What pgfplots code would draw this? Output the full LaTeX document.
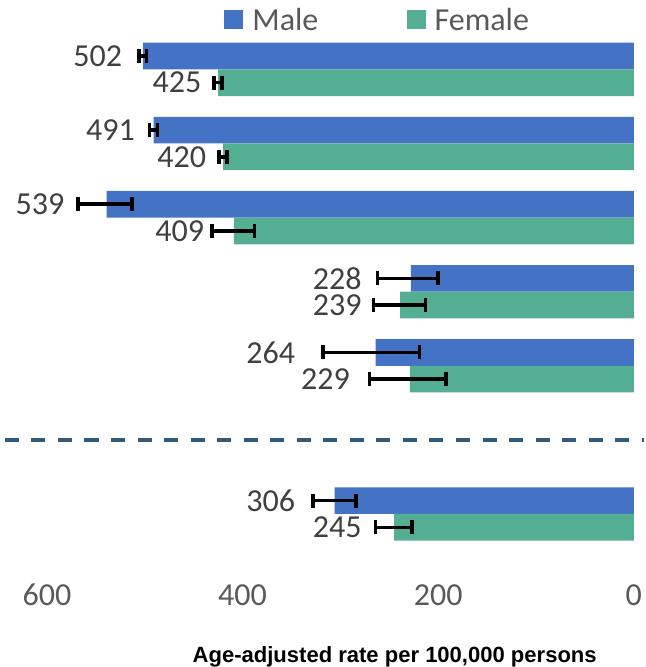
\documentclass[border=0pt]{standalone}
\usepackage{fontspec}
\setmainfont{Carlito}
\newfontfamily\arialfont{Liberation Sans}
\usepackage{pgfplots}
\usepackage{pgfplotstable}
\pgfplotsset{compat=1.18}
\definecolor{maleblue}{RGB}{68,114,196}
\definecolor{femgreen}{RGB}{84,174,147}
\definecolor{tickgray}{RGB}{89,89,89}
\definecolor{lblgray}{RGB}{64,64,64}
\definecolor{dashblue}{RGB}{50,90,125}

\pgfplotstableread{
y v ep em lx lbl
-0.18 502 4 4 523 502
0.82 491 4 4 510 491
1.82 539 29 26 582 539
2.82 228 34 28 278 228
3.82 264 54 45 346 264
5.82 306 22 22 346 306
}\male
\pgfplotstableread{
y v ep em lx lbl
0.18 425 4 4 442 425
1.18 420 4 4 437 420
2.18 409 22 21 439 409
3.18 239 27 26 278 239
4.18 229 41 37 290 229
6.18 245 19 18 278 245
}\female

\begin{document}
\begin{tikzpicture}
\begin{axis}[
  scale only axis,
  width=643pt, height=558.7pt,
  xmin=-10.3, xmax=648,
  ymin=-0.55, ymax=7.0,
  x dir=reverse, y dir=reverse,
  axis line style={draw=none},
  tick style={draw=none},
  ytick=\empty,
  xtick={0,200,400,600},
  /pgf/number format/assume math mode=true,
  xticklabel style={font=\fontsize{32}{38}\selectfont, text=tickgray, inner sep=0pt, anchor=north, yshift=4pt},
  xlabel={Age-adjusted rate per 100,000 persons},
  xlabel style={font=\arialfont\bfseries\fontsize{22}{26}\selectfont, at={(axis description cs:0.613,0)}, anchor=north, inner sep=0pt, yshift=-58pt},
  clip=false,
  bar width=0.36,
  legend style={at={(axis description cs:0.585,1.0515)}, anchor=north, draw=none, fill=none,
    inner xsep=0pt, inner ysep=8pt, nodes={inner sep=0pt},
    legend columns=2, font=\fontsize{32}{38}\selectfont, text=tickgray,
    /tikz/every odd column/.append style={column sep=9pt},
    /tikz/every even column/.append style={column sep=88pt}},
  legend image code/.code={\fill (0pt,-9.5pt) rectangle (19pt,9.5pt);},
]
\addplot[xbar, bar shift=0pt, fill=maleblue, draw=none,
  error bars/.cd, x dir=both, x explicit,
  error bar style={line width=3.5pt, black},
  error mark options={line width=3.5pt, black, mark size=7pt, rotate=90}]
  table[x=v, y=y, x error plus=ep, x error minus=em] {\male};
\addlegendentry{Male}
\addplot[xbar, bar shift=0pt, fill=femgreen, draw=none,
  error bars/.cd, x dir=both, x explicit,
  error bar style={line width=3.5pt, black},
  error mark options={line width=3.5pt, black, mark size=7pt, rotate=90}]
  table[x=v, y=y, x error plus=ep, x error minus=em] {\female};
\addlegendentry{Female}
\addplot[draw=none, mark=none, forget plot, nodes near coords, point meta=explicit symbolic,
  nodes near coords style={anchor=east, inner sep=0pt, font=\fontsize{32}{38}\selectfont, text=lblgray}]
  table[x=lx, y=y, meta=lbl] {\male};
\addplot[draw=none, mark=none, forget plot, nodes near coords, point meta=explicit symbolic,
  nodes near coords style={anchor=east, inner sep=0pt, font=\fontsize{32}{38}\selectfont, text=lblgray}]
  table[x=lx, y=y, meta=lbl] {\female};
\addplot[forget plot, dashblue, line width=4pt, dash pattern=on 14pt off 12.5pt]
  coordinates {(643,5) (-10.3,5)};
\end{axis}
\end{tikzpicture}
\end{document}
